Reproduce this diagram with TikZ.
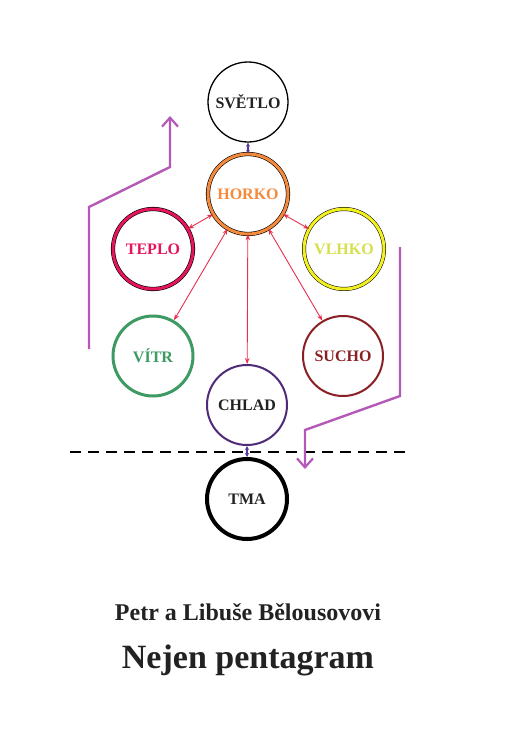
\documentclass[tikz,border=0pt]{standalone}
\usepackage{fontspec}
\setmainfont{Liberation Serif}
\usetikzlibrary{arrows.meta}
\definecolor{txt}{HTML}{222222}
\definecolor{orng}{HTML}{F58A3C}
\definecolor{tepl}{HTML}{E5145C}
\definecolor{ylw}{HTML}{F2F020}
\definecolor{vlhtxt}{HTML}{D6E04A}
\definecolor{grn}{HTML}{3C9A62}
\definecolor{such}{HTML}{8A1F24}
\definecolor{chl}{HTML}{4E2A78}
\definecolor{purp}{HTML}{B559B8}
\definecolor{redl}{HTML}{E8304A}
\definecolor{blu}{HTML}{5A3C9A}
\begin{document}
\begin{tikzpicture}[x=1pt,y=-1pt,
  elem/.style={circle,minimum size=80pt,inner sep=0pt,font=\fontsize{16}{18}\selectfont\bfseries},
  link/.style={redl,line width=0.9pt,{Stealth[length=6pt,width=4.5pt]}-{Stealth[length=6pt,width=4.5pt]}},
  vlink/.style={blu,line width=1.2pt,{Stealth[length=4pt,width=4pt]}-{Stealth[length=4pt,width=4pt]}},
  flow/.style={purp,line width=2.4pt,-{Straight Barb[length=9pt,width=16pt,line width=2.2pt]}}]
\useasboundingbox (0,0) rectangle (510,731);
\fill[white] (0,0) rectangle (510,731);
\node[elem,draw=black,line width=1.3pt,text=txt] (svetlo) at (248,102) {SVĚTLO};
\node[elem,draw=black,line width=0.6pt,double=orng,double distance=3pt,text=orng] (horko) at (248,194) {HORKO};
\node[elem,draw=black,line width=0.6pt,double=tepl,double distance=3pt,text=tepl] (teplo) at (153,249) {TEPLO};
\node[elem,draw=black,line width=0.5pt,double=ylw,double distance=3pt,text=vlhtxt] (vlhko) at (344,249) {VLHKO};
\node[elem,draw=grn,line width=3pt,text=grn] (vitr) at (153,356) {VÍTR};
\node[elem,draw=such,line width=2pt,text=such] (sucho) at (343,356) {SUCHO};
\node[elem,draw=chl,line width=2pt,text=txt] (chlad) at (247,405) {CHLAD};
\node[elem,draw=black,line width=4pt,text=txt] (tma) at (247,499) {TMA};
\draw[vlink] (svetlo) -- (horko);
\draw[vlink] (chlad) -- (tma);
\draw[link] (horko) -- (teplo);
\draw[link] (horko) -- (vlhko);
\draw[link] (horko) -- (vitr);
\draw[link] (horko) -- (sucho);
\draw[link] (horko) -- (chlad);
\draw[black,line width=1.3pt,dash pattern=on 11pt off 7pt] (70,452) -- (407,452);
\coordinate (l0) at (89,349);
\coordinate (l1) at (89,207);
\coordinate (l2) at (170,167);
\coordinate (l3) at (170,116);
\draw[flow] (l0) -- (l1) -- (l2) -- (l3);
\coordinate (r0) at (400,247);
\coordinate (r1) at (400,396);
\coordinate (r2) at (305,430);
\coordinate (r3) at (305,469);
\draw[flow] (r0) -- (r1) -- (r2) -- (r3);
\node[text=txt,font=\fontsize{24}{28}\selectfont\bfseries] (authors) at (248,612) {Petr a Libuše Bělousovovi};
\node[text=txt,font=\fontsize{34}{40}\selectfont\bfseries] (title) at (248,660) {Nejen pentagram};
\end{tikzpicture}
\end{document}
